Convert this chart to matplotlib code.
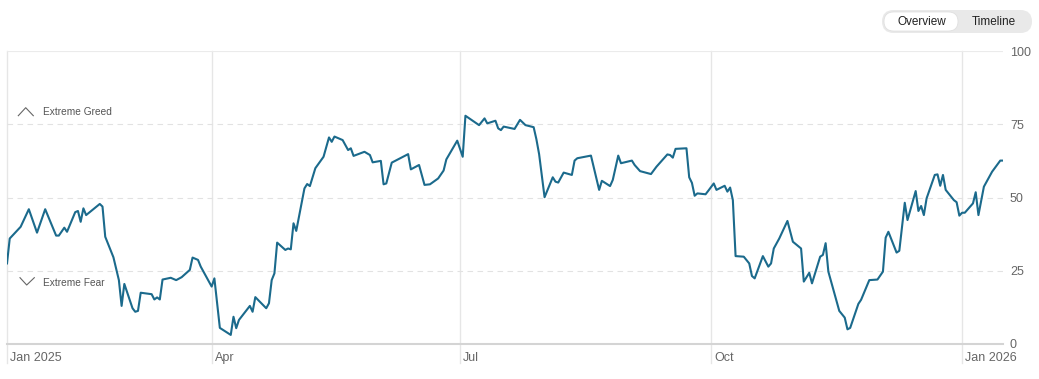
import matplotlib
matplotlib.use('Agg')
import matplotlib.pyplot as plt
import pandas as pd
from matplotlib.lines import Line2D
from matplotlib.patches import FancyBboxPatch
from matplotlib.transforms import IdentityTransform, blended_transform_factory

plt.rcParams['font.family'] = ['Liberation Sans', 'DejaVu Sans']

# Fear & Greed index (days counted from 2025-01-01)
days = [15, 16, 20, 23, 26, 29, 33, 34, 36, 37, 40, 41, 42, 43, 44, 49, 50, 51,
        54, 56, 57, 58, 61, 62, 63, 64, 68, 69, 70, 71, 72, 75, 77, 79, 82, 83,
        85, 86, 90, 91, 93, 97, 98, 99, 100, 104, 105, 106, 110, 111, 112, 113,
        114, 117, 118, 119, 120, 121, 124, 125, 126, 128, 131, 133, 134, 135,
        138, 140, 141, 142, 146, 148, 149, 152, 153, 154, 156, 162, 163, 166,
        168, 170, 173, 175, 176, 180, 182, 183, 188, 190, 191, 194, 195, 196,
        197, 201, 203, 205, 208, 209, 210, 212, 215, 216, 217, 219, 222, 223,
        224, 229, 232, 233, 236, 237, 239, 240, 244, 245, 247, 251, 253, 257,
        258, 259, 260, 264, 265, 266, 267, 268, 271, 272, 274, 275, 278, 279,
        280, 281, 282, 285, 287, 288, 289, 292, 294, 295, 296, 298, 301, 303,
        306, 307, 309, 310, 313, 314, 315, 316, 320, 322, 323, 324, 327, 328,
        331, 334, 336, 337, 338, 341, 342, 344, 345, 348, 349, 350, 351, 352,
        355, 356, 357, 358, 359, 362, 363, 364, 365, 366, 369, 370, 371, 373,
        376, 379, 380]
fear_greed = [27.5, 36, 40, 46, 38, 46, 37, 37, 39.7, 38.3, 45, 45.4, 41.7, 46.3,
              44, 47.8, 46.9, 36.6, 29.6, 21.8, 13, 20.5, 12.2, 11, 11.3, 17.5,
              17, 15.2, 15.9, 15.2, 22, 22.6, 21.8, 22.8, 25.3, 29.5, 28.7, 26.4,
              19.6, 22.4, 5.5, 3.1, 9.3, 5.4, 8.2, 13, 11, 16, 12.2, 13.9, 21.8,
              24.1, 34.6, 32.1, 32.6, 32.3, 41.2, 38.6, 53.1, 54.6, 53.9, 60, 63.9,
              70.5, 69, 70.8, 69.6, 66.2, 66.8, 64.2, 65.6, 64.5, 62, 62.5, 54.5,
              54.8, 61.9, 64.8, 59.6, 61.1, 54.3, 54.5, 56.5, 59.2, 63, 69.4, 63.9,
              77.9, 74.7, 77, 75.3, 76.2, 73.6, 73, 74.2, 73.4, 76.5, 74.7, 74,
              69.9, 64.8, 50.1, 56.9, 55.4, 55.1, 58.5, 57.7, 62.6, 63.4, 64.3,
              52.6, 55.7, 53.9, 56, 64.3, 61.7, 62.6, 61.1, 59, 58, 60.5, 64.7,
              64.5, 63.6, 66.6, 66.8, 56.9, 55, 50.6, 51.4, 51.1, 52.3, 54.8, 52.6,
              54, 52, 53.4, 49.1, 30, 29.8, 27.5, 23.2, 22.4, 30, 26.4, 27.5, 32.6,
              36, 42, 34.9, 32.6, 21.3, 24.3, 20.7, 29.8, 30.4, 34.4, 24.7, 11.3,
              9, 5, 5.5, 13.7, 15.1, 21.8, 22, 24.7, 36.3, 38.3, 31.2, 31.8, 48.2,
              42.3, 52.2, 45.4, 47.1, 44, 49.7, 57.7, 57.9, 54, 57.7, 52.6, 49.1,
              48.4, 43.8, 44.8, 44.8, 48, 51.8, 44, 53.7, 58.8, 62.6, 62.6]

month_starts = ['2025-01-16', '2025-04-01', '2025-07-01', '2025-10-01', '2026-01-01']
month_labels = ['Jan 2025', 'Apr', 'Jul', 'Oct', 'Jan 2026']
y_ticks = [0, 25, 50, 75, 100]

dates = pd.Timestamp('2025-01-01') + pd.to_timedelta(days, unit='D')
month_dates = pd.to_datetime(month_starts)

W, H = 1039, 379
fig = plt.figure(figsize=(W / 100, H / 100), dpi=100)
ax = fig.add_axes([7 / W, 35 / H, 996 / W, 293 / H])

ax.plot(dates, fear_greed, color='#1b6a8c', lw=1.5, zorder=3)
ax.set_xlim(dates[0], dates[-1])
ax.set_ylim(0, 100)

# grid
for y in y_ticks[1:-1]:
    ax.axhline(y, color='#e2e2e2', lw=0.8, ls=(0, (5, 4)), zorder=1)
ax.axhline(100, color='#ebebeb', lw=0.8, zorder=1)

trans = blended_transform_factory(ax.transData, ax.transAxes)
for d, lab in zip(month_dates, month_labels):
    ax.axvline(d, ymin=-0.065, ymax=1, color='#e6e6e6', lw=1, clip_on=False, zorder=0)
    ax.text(d + pd.Timedelta(days=1.2), -0.049, lab, transform=trans, ha='left',
            va='center', fontsize=9, color='#666666')

ax.set_xticks([])
ax.yaxis.tick_right()
ax.set_yticks(y_ticks)
ax.tick_params(axis='y', length=0, pad=5, labelcolor='#666666', labelsize=9)
for s in ['top', 'left', 'right']:
    ax.spines[s].set_visible(False)
ax.spines['bottom'].set_color('#d4d4d4')
ax.spines['bottom'].set_linewidth(1.5)


def fx(px):
    return px / W


def fy(py):
    return 1 - py / H


# zone labels
fig.add_artist(Line2D([fx(18.3), fx(25.7), fx(33.3)], [fy(115.7), fy(107.7), fy(115.7)],
                      transform=fig.transFigure, color='#666666', lw=0.8))
fig.text(fx(43), fy(112), 'Extreme Greed', fontsize=7.3, color='#555555', va='center')
fig.add_artist(Line2D([fx(20), fx(26.7), fx(34.3)], [fy(277.7), fy(285), fy(277.7)],
                      transform=fig.transFigure, color='#666666', lw=0.8))
fig.text(fx(43), fy(283.5), 'Extreme Fear', fontsize=7.3, color='#555555', va='center')

# toggle
fig.add_artist(FancyBboxPatch((882, H - 33), 150, 23,
                              boxstyle='round,pad=0,rounding_size=11.5',
                              transform=IdentityTransform(), fc='#e9e9e9', ec='none'))
fig.add_artist(FancyBboxPatch((884, H - 31), 74, 19,
                              boxstyle='round,pad=0,rounding_size=9.5',
                              transform=IdentityTransform(), fc='white', ec='#dddddd', lw=0.5))
fig.text(fx(921.5), fy(21.7), 'Overview', fontsize=8.5, color='#222222', ha='center', va='center')
fig.text(fx(994), fy(21.7), 'Timeline', fontsize=8.5, color='#222222', ha='center', va='center')

fig.savefig('out.png', dpi=100)
